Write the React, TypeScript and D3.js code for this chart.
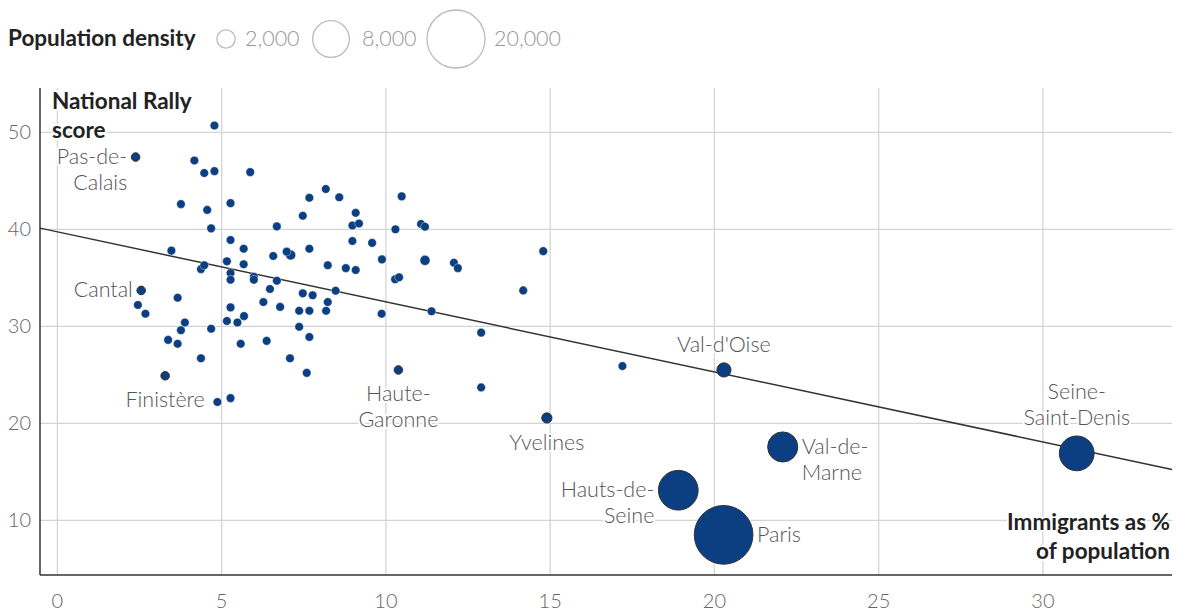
import React from "react";
import * as d3 from "d3";

// Immigrants as % of population (x), National Rally score (y), population density
const immigrants = [
  4.78, 2.38, 4.17, 4.47, 4.78, 5.87, 8.17, 7.67, 3.76, 4.56, 5.27, 7.47, 4.68, 6.68, 3.47, 5.27,
  5.67, 6.57, 6.98, 7.1, 7.67, 8.23, 5.16, 5.67, 4.37, 4.47, 5.27, 5.27, 5.98, 5.98, 6.68, 6.47,
  7.47, 7.77, 6.27, 6.78, 5.27, 5.68, 5.16, 5.48, 7.36, 7.67, 8.18, 8.23, 7.36, 7.67, 5.58, 6.37,
  7.08, 7.59, 2.55, 2.45, 2.68, 3.66, 3.88, 3.76, 4.68, 3.37, 3.66, 4.37, 3.28, 4.87, 5.27, 8.58,
  10.48, 9.08, 8.98, 9.18, 10.29, 11.07, 11.19, 8.98, 9.58, 9.88, 11.19, 12.07, 12.19, 14.79, 8.78, 9.08,
  10.28, 10.4, 8.47, 9.87, 11.39, 14.18, 12.9, 10.38, 12.9, 14.9, 17.2, 20.29, 22.08, 18.9, 20.28, 31.03,
];
const rnScore = [
  50.7, 47.45, 47.1, 45.8, 46.0, 45.9, 44.15, 43.25, 42.6, 42.0, 42.7, 41.4, 40.1, 40.3, 37.8, 38.9,
  38.0, 37.25, 37.7, 37.35, 38.0, 36.3, 36.7, 36.4, 35.9, 36.3, 35.5, 34.8, 35.1, 34.8, 34.7, 33.85,
  33.4, 33.2, 32.5, 32.0, 31.95, 31.05, 30.55, 30.4, 31.6, 31.6, 31.6, 32.5, 29.95, 28.9, 28.2, 28.5,
  26.7, 25.2, 33.7, 32.2, 31.3, 32.95, 30.4, 29.6, 29.75, 28.6, 28.2, 26.7, 24.9, 22.2, 22.6, 43.3,
  43.4, 41.7, 40.4, 40.6, 40.0, 40.55, 40.27, 38.8, 38.6, 36.9, 36.8, 36.55, 36.0, 37.75, 36.0, 35.8,
  34.85, 35.05, 33.67, 31.3, 31.55, 33.7, 29.35, 25.5, 23.7, 20.55, 25.9, 25.5, 17.56, 13.1, 8.5, 16.9,
];
const density = [
  100, 190, 100, 100, 100, 100, 100, 100, 100, 100, 100, 100, 100, 100, 100, 100,
  100, 100, 100, 600, 100, 100, 100, 100, 100, 100, 100, 100, 100, 100, 100, 100,
  100, 100, 100, 100, 100, 100, 100, 100, 100, 100, 100, 100, 100, 100, 100, 100,
  100, 100, 25, 100, 100, 100, 100, 100, 100, 100, 100, 100, 135, 100, 100, 100,
  100, 100, 100, 100, 100, 100, 100, 100, 100, 100, 600, 100, 100, 100, 100, 100,
  100, 100, 100, 100, 100, 100, 100, 220, 100, 620, 100, 1200, 5400, 9400, 20500, 7200,
];
const labelIndex = [1, 50, 60, 87, 89, 91, 92, 93, 94, 95];
const labelLines = [
  ["Pas-de-", "Calais"], ["Cantal"], ["Finistère"], ["Haute-", "Garonne"], ["Yvelines"],
  ["Val-d'Oise"], ["Val-de-", "Marne"], ["Hauts-de-", "Seine"], ["Paris"], ["Seine-", "Saint-Denis"],
];
const labelPlace = ["left", "left", "below", "below", "below", "above", "right", "left", "right", "above"];

const xTicks = [0, 5, 10, 15, 20, 25, 30];
const yTicks = [10, 20, 30, 40, 50];
const legendValues = [2000, 8000, 20000];
const legendLabels = ["2,000", "8,000", "20,000"];
const trendIntercept = 39.74;
const trendSlope = -0.722;

const FONT = "Lato, 'Open Sans', sans-serif";

export default function App() {
  const W = 1177, H = 611;
  const x = d3.scaleLinear().domain([-0.53, 33.93]).range([40, 1172]);
  const y = d3.scaleLinear().domain([4.36, 54.57]).range([575, 88]);
  const r = d3.scaleSqrt().domain([0, 20000]).range([0, 29]);
  const rad = (d: number) => Math.max(4.3, r(d));

  const [x0, x1] = x.domain();
  const trend = d3.line<number>()
    .x((v) => x(v))
    .y((v) => y(trendIntercept + trendSlope * v))([x0, x1]);

  const order = d3.range(immigrants.length).sort((a, b) => density[b] - density[a]);
  const halo = { paintOrder: "stroke" as const, stroke: "#fff", strokeWidth: 4, strokeLinejoin: "round" as const };

  const legendX = [226, 331, 456];
  const legendTextX = [245, 362, 494];
  const LS = 21.5; // label font size
  const BS = 22.5; // bold font size

  return (
    <svg width={W} height={H} style={{ position: "absolute", left: 0, top: 0, background: "#fff" }} fontFamily={FONT}>
      {/* legend */}
      <text x={8} y={46} fontSize={BS} fontWeight={700} fill="#222">Population density</text>
      {legendValues.map((v, i) => (
        <g key={v}>
          <circle cx={legendX[i]} cy={39} r={r(v)} fill="none" stroke="#bbb" strokeWidth={1.3} />
          <text x={legendTextX[i]} y={46} fontSize={LS} fill="#999" fontWeight={300}>{legendLabels[i]}</text>
        </g>
      ))}

      {/* grid */}
      {xTicks.map((t) => (
        <line key={"gx" + t} x1={x(t)} x2={x(t)} y1={88} y2={575} stroke="#d4d4d4" strokeWidth={1.3} />
      ))}
      {yTicks.map((t) => (
        <line key={"gy" + t} x1={40} x2={1172} y1={y(t)} y2={y(t)} stroke="#d4d4d4" strokeWidth={1.3} />
      ))}

      {/* axes */}
      <line x1={40} x2={40} y1={88} y2={575} stroke="#333" strokeWidth={1.5} />
      <line x1={40} x2={1172} y1={575} y2={575} stroke="#333" strokeWidth={1.5} />
      {yTicks.map((t) => (
        <text key={"ty" + t} x={31} y={y(t) + 7} textAnchor="end" fontSize={20} fill="#666" fontWeight={300}>{t}</text>
      ))}
      {xTicks.map((t) => (
        <text key={"tx" + t} x={x(t)} y={608} textAnchor="middle" fontSize={20} fill="#666" fontWeight={300}>{t}</text>
      ))}

      {/* trend */}
      <path d={trend || ""} fill="none" stroke="#333" strokeWidth={1.5} />

      {/* labels */}
      {labelIndex.map((idx, k) => {
        const cx = x(immigrants[idx]);
        const cy = y(rnScore[idx]);
        const rr = rad(density[idx]);
        const lines = labelLines[k];
        const place = labelPlace[k];
        let tx = cx, ty = cy, anchor = "middle";
        const lh = 26;
        if (place === "left") { tx = cx - rr - 4; anchor = "end"; ty = cy + 7; }
        if (place === "right") { tx = cx + rr + 4; anchor = "start"; ty = cy + 7; }
        if (place === "below") { ty = cy + rr + 27; }
        if (place === "above") { ty = cy - rr - 11 - (lines.length - 1) * lh; }
        return (
          <text key={"l" + idx} x={tx} y={ty} textAnchor={anchor} fontSize={LS} fill="#555" fontWeight={300} style={halo}>
            {lines.map((s, j) => (
              <tspan key={j} x={tx} dy={j === 0 ? 0 : lh}>{s}</tspan>
            ))}
          </text>
        );
      })}

      {/* dots */}
      {order.map((i) => {
        const labeled = labelIndex.includes(i);
        return (
          <circle key={"c" + i} cx={x(immigrants[i])} cy={y(rnScore[i])} r={rad(density[i])}
            fill="#0b3f82" stroke={labeled ? "#333" : "#fff"} strokeWidth={labeled ? 1 : 0.4} />
        );
      })}

      {/* axis titles */}
      <text x={52} y={109} fontSize={BS} fontWeight={700} fill="#222" style={halo}>
        <tspan x={52}>National Rally</tspan>
        <tspan x={52} dy={29}>score</tspan>
      </text>
      <text x={1170} y={530} textAnchor="end" fontSize={BS} fontWeight={700} fill="#222" style={halo}>
        <tspan x={1170}>Immigrants as %</tspan>
        <tspan x={1170} dy={29}>of population</tspan>
      </text>
    </svg>
  );
}
